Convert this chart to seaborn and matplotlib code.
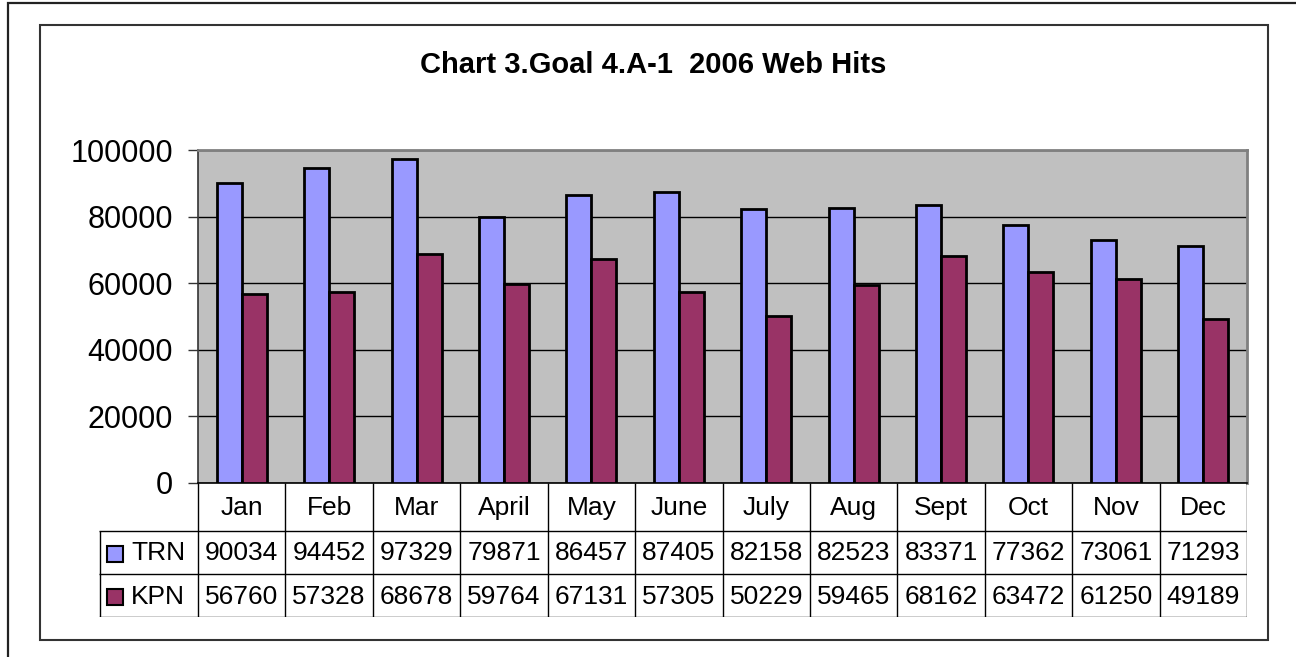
import pandas as pd
import matplotlib
matplotlib.use("Agg")
import matplotlib.pyplot as plt
from matplotlib.patches import Rectangle
import seaborn as sns

months = ["Jan", "Feb", "Mar", "April", "May", "June", "July", "Aug", "Sept", "Oct", "Nov", "Dec"]
trn = [90034, 94452, 97329, 79871, 86457, 87405, 82158, 82523, 83371, 77362, 73061, 71293]
kpn = [56760, 57328, 68678, 59764, 67131, 57305, 50229, 59465, 68162, 63472, 61250, 49189]
series = ["TRN", "KPN"]
colors = {"TRN": "#9999FF", "KPN": "#993366"}
yticks = [0, 20000, 40000, 60000, 80000, 100000]

df = pd.DataFrame({
    "month": months * 2,
    "series": ["TRN"] * len(months) + ["KPN"] * len(months),
    "hits": trn + kpn,
})

sns.set_style("white")
plt.rcParams["font.family"] = ["Liberation Sans", "DejaVu Sans"]
plt.rcParams["text.color"] = "black"
plt.rcParams["ytick.color"] = "black"
plt.rcParams["ytick.labelcolor"] = "black"

W, H = 1296, 657
fig = plt.figure(figsize=(W / 100, H / 100), dpi=100)


def box(l, t, r, b):
    # pixel box -> figure fraction rect
    return [l / W, 1 - b / H, (r - l) / W, (b - t) / H]


# frames around the chart
fig.add_artist(Rectangle((8 / W, -0.1), 1.2, 1 - 3 / H + 0.1, transform=fig.transFigure,
                         fill=False, edgecolor="#222222", linewidth=1.6))
fig.add_artist(Rectangle((40 / W, 1 - 640 / H), (1268 - 40) / W, (640 - 25) / H,
                         transform=fig.transFigure, fill=False, edgecolor="#333333", linewidth=1.5))

fig.text(653 / W, 1 - 73 / H, "Chart 3.Goal 4.A-1  2006 Web Hits", ha="center", va="baseline",
         fontsize=21, fontweight="bold", color="black")

# --- bars ---
ax = fig.add_axes(box(198, 150, 1247, 483))
ax.set_facecolor("#C0C0C0")
sns.barplot(data=df, x="month", y="hits", hue="series", order=months, hue_order=series,
            palette=colors, saturation=1, width=0.572, gap=0, edgecolor="black", linewidth=2.0,
            legend=False, ax=ax, zorder=3)
ax.set_xlim(-0.5, len(months) - 0.5)
ax.set_ylim(0, 100000)
ax.set_yticks(yticks)
ax.set_yticklabels([str(v) for v in yticks], fontsize=22)
ax.tick_params(axis="y", direction="out", length=7, width=1, pad=11, left=True, color="#333333")
ax.tick_params(axis="x", bottom=False, labelbottom=False)
ax.set_xlabel("")
ax.set_ylabel("")
ax.yaxis.grid(True, color="black", linewidth=1, zorder=1)
ax.set_axisbelow(True)
for s in ["top", "right"]:
    ax.spines[s].set_color("#808080")
    ax.spines[s].set_linewidth(2)
ax.spines["left"].set_color("#333333")
ax.spines["left"].set_linewidth(1.2)
ax.spines["bottom"].set_color("black")
ax.spines["bottom"].set_linewidth(1.2)

# --- data table under the axis ---
px_per_unit = (1247 - 198) / len(months)
tab_left = -0.5 - (198 - 99) / px_per_unit
tab = fig.add_axes(box(99, 483, 1247, 617))
tab.set_xlim(tab_left, len(months) - 0.5)
tab.set_ylim(134, 0)
tab.axis("off")

rows = [0, 48, 91, 134]
for i in range(len(months) + 1):
    tab.vlines(i - 0.5, rows[0], rows[-1], color="black", linewidth=1)
tab.vlines(tab_left + 0.01, rows[1], rows[-1], color="black", linewidth=1)
for y in rows[1:]:
    tab.hlines(y, tab_left, len(months) - 0.5, color="black", linewidth=1)

for i, m in enumerate(months):
    tab.text(i, (rows[0] + rows[1]) / 2 + 1, m, ha="center", va="center", fontsize=19)
for r, (name, vals) in enumerate(zip(series, [trn, kpn])):
    yc = (rows[r + 1] + rows[r + 2]) / 2 + 1
    for i, v in enumerate(vals):
        tab.text(i, yc, str(v), ha="center", va="center", fontsize=19)
    tab.plot([tab_left + 15.5 / px_per_unit], [yc], marker="s", markersize=12,
             markerfacecolor=colors[name], markeredgecolor="black", markeredgewidth=1.5,
             clip_on=False)
    tab.text(tab_left + 32 / px_per_unit, yc, name, ha="left", va="center", fontsize=19)

fig.savefig("out.png", dpi=100)
